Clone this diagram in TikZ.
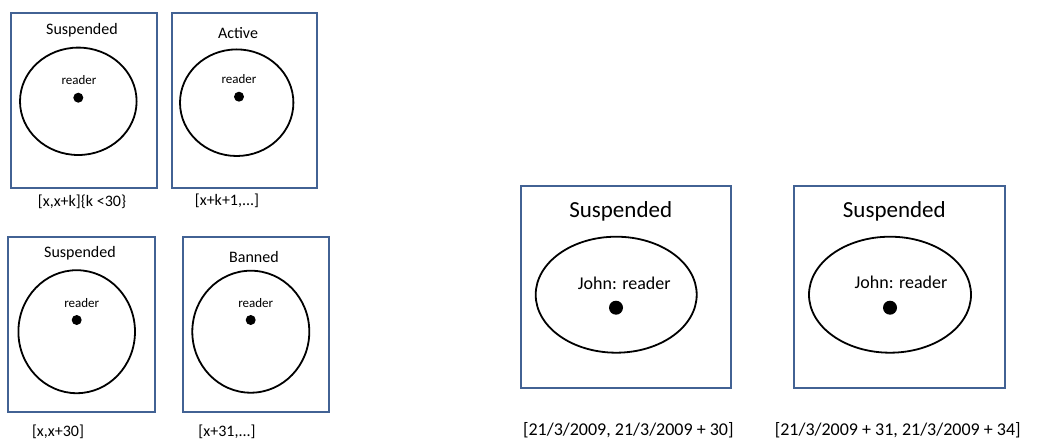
\documentclass[tikz,border=0pt]{standalone}
\usepackage{fontspec}
\setmainfont{Carlito}
\definecolor{boxblue}{RGB}{66,98,148}

\begin{document}
\begin{tikzpicture}[x=1pt,y=-1pt,
    statebox/.style={draw=boxblue,line width=1.8pt},
    roleset/.style={draw=black,line width=1.8pt},
    member/.style={fill=black},
    smalltitle/.style={inner sep=0pt,font=\fontsize{16}{19}\selectfont},
    smallrole/.style={inner sep=0pt,font=\fontsize{13}{15}\selectfont},
    bigtitle/.style={inner sep=0pt,font=\fontsize{23}{27}\selectfont},
    bigrole/.style={inner sep=0pt,font=\fontsize{18}{21}\selectfont},
    span/.style={inner sep=0pt,font=\fontsize{16}{19}\selectfont},
    bigspan/.style={inner sep=0pt,font=\fontsize{18}{21}\selectfont}]
  \useasboundingbox (0,0) rectangle (1040,441);

  % top left: suspended, then active
  \draw[statebox] (11,13) rectangle (157,188);
  \draw[roleset] (78.3,101.3) ellipse [x radius=58.3, y radius=53.7];
  \fill[member] (78.3,97.7) circle [radius=5];
  \node[smalltitle] (susp1) at (82,30) {Suspended};
  \node[smallrole] (role1) at (79,80) {reader};
  \node[span] (span1) at (82,201.5) {[x,x+k]\{k <30\}};

  \draw[statebox] (172,13) rectangle (317,188);
  \draw[roleset] (236.7,102.7) ellipse [x radius=56.7, y radius=53.3];
  \fill[member] (239,96.7) circle [radius=5];
  \node[smalltitle] (act1) at (238,33) {Active};
  \node[smallrole] (role2) at (239,79) {reader};
  \node[span] (span2) at (227,201) {[x+k+1,...]};

  % bottom left: suspended, then banned
  \draw[statebox] (8.3,236.7) rectangle (155,411.7);
  \draw[roleset] (76.7,331.7) ellipse [x radius=58.3, y radius=61.5];
  \fill[member] (76.7,320) circle [radius=5];
  \node[smalltitle] (susp2) at (80,253) {Suspended};
  \node[smallrole] (role3) at (81.7,303) {reader};
  \node[span] (span3) at (58,431.7) {[x,x+30]};

  \draw[statebox] (183.3,236.7) rectangle (329.3,411.7);
  \draw[roleset] (250.8,331.7) ellipse [x radius=58.5, y radius=61];
  \fill[member] (250.7,320) circle [radius=5];
  \node[smalltitle] (ban1) at (254,256.7) {Banned};
  \node[smallrole] (role4) at (255.7,303) {reader};
  \node[span] (span4) at (227,432) {[x+31,...]};

  % right: John
  \draw[statebox] (520.7,186) rectangle (731,387.7);
  \draw[roleset] (616.2,294.7) ellipse [x radius=80.5, y radius=58];
  \fill[member] (616,307.7) circle [radius=7];
  \node[bigtitle] (susp3) at (620.7,211.7) {Suspended};
  \node[bigrole] (john1) at (624.3,283.3) {John: reader};
  \node[bigspan] (span5) at (628.3,430.7) {[21/3/2009, 21/3/2009 + 30]};

  \draw[statebox] (794.3,186) rectangle (1005,388);
  \draw[roleset] (890,294.7) ellipse [x radius=81, y radius=58];
  \fill[member] (890,307.7) circle [radius=7];
  \node[bigtitle] (susp4) at (894.3,211.7) {Suspended};
  \node[bigrole] (john2) at (901,282.7) {John: reader};
  \node[bigspan] (span6) at (897.7,430.7) {[21/3/2009 + 31, 21/3/2009 + 34]};
\end{tikzpicture}
\end{document}
